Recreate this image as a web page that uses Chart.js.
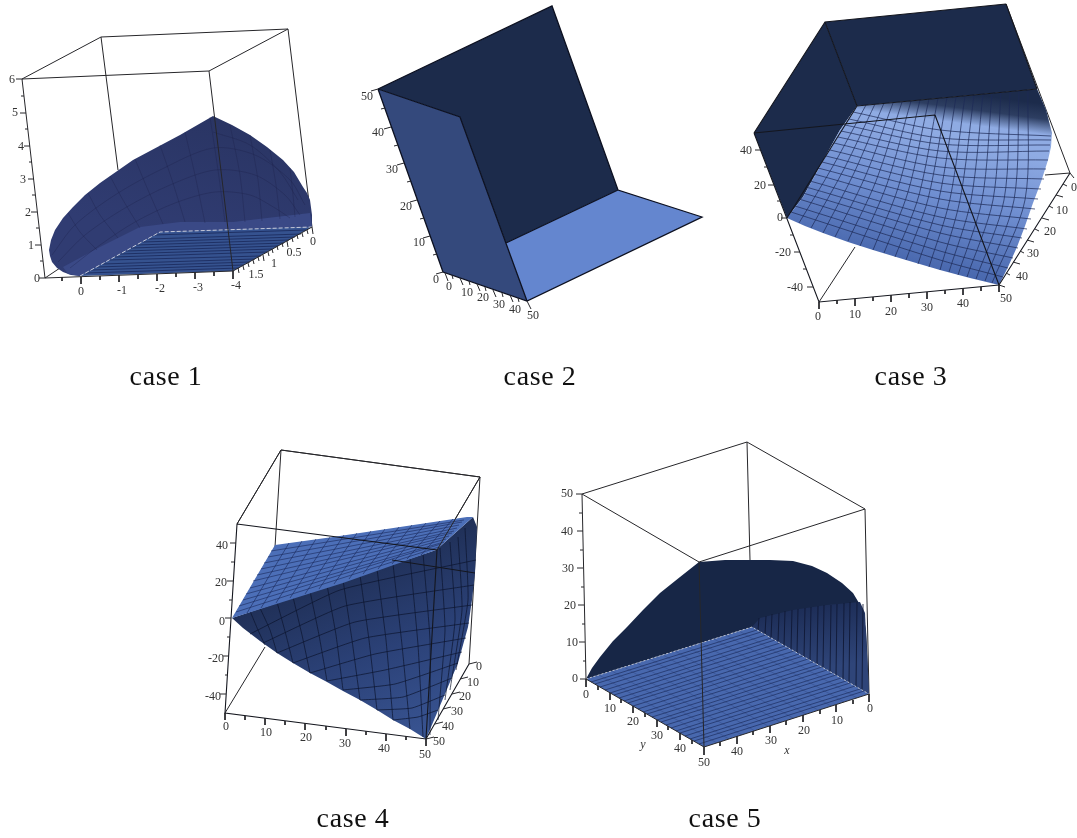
<!DOCTYPE html>
<html>
<head>
<meta charset="utf-8">
<title>cases</title>
<script src="https://cdn.jsdelivr.net/npm/chart.js@4"></script>
<style>
  html, body { margin: 0; background: #fff; }
  canvas { display: block; }
</style>
</head>
<body>
<canvas id="myChart" width="1077" height="838"></canvas>
<script>

// case 1
const case1BoxBack = [[22,79,101,37,288,29,209,71,22,79], [101,37,118,170], [288,29,312,227], [45,278,60,268]];
const case1Surface = [213,116,180,135,133,160,100,183,85,195,73,207,63,218,55,230,51,240,49,250,50,256,52,262,57,268,63,272,71,275,80,276,160,232,312,227,312,215,310,200,307,193,303,187,294,172,283,160,267,147,250,135,232,125];
const case1Band = [63,267,100,247,140,227,180,222,233,222,310,213,312,227,160,232,80,276,68,274];
const case1Floor = [80,276,233,271,312,227,160,232];
const case1Arcs = [[52,255,75,225,115,195,160,170,213,148,255,155,290,180,305,205], [58,262,85,235,125,208,170,185,215,170,255,175,285,195,300,215], [70,268,100,245,135,222,175,203,215,192,250,195,275,208,290,218], [213,132,250,145,280,172,298,200]];
const case1Ribs = [[210,117,218,170,225,222], [230,125,240,175,245,222], [250,135,258,180,262,221], [270,150,276,185,280,219], [290,168,293,195,295,217], [185,132,195,175,205,223], [160,145,172,180,185,222], [135,159,148,190,163,224], [110,176,123,200,140,228], [88,193,100,215,118,238], [68,213,80,232,97,250]];
const case1Hatch = [[86,273,239,268],[91,270,244,265],[97,267,250,262],[103,264,255,259],[109,260,261,256],[114,257,267,252],[120,254,272,249],[126,251,278,246],[131,248,284,243],[137,245,289,240],[143,242,295,237],[149,239,301,234],[154,235,306,230]];
const case1Seam = [[80,276,160,232,312,227]];
const case1BoxFront = [[209,71,233,271], [22,79,45,278], [45,278,233,271,312,227]];
const case1Ticks = [[81,277,81,284],[119,275,119,282],[157,274,157,281],[195,272,195,279],[233,271,233,279],[62,277,62,281],[100,276,100,280],[138,275,138,279],[176,273,176,277],[214,272,214,276],
  [312,227,313,234],[307,230,308,234],[302,233,303,237],[297,235,298,239],[292,238,293,242],[287,241,288,247],[282,243,283,247],[277,246,278,250],[272,249,273,253],[268,252,269,256],[263,255,264,261],[258,257,259,261],[253,260,254,264],[248,263,249,267],[243,266,244,270],[238,268,239,273],
  [22,79,16,79],[26,113,20,113],[30,146,24,146],[34,179,28,179],[37,212,31,212],[41,245,35,245],[45,278,39,278],[24,96,21,96],[28,129,25,129],[32,162,29,162],[35,195,32,195],[39,228,36,228],[43,261,40,261]];
const case1Labels = ['0','-1','-2','-3','-4','0','0.5','1','1.5','6','5','4','3','2','1','0'];
const case1LabelAt = [[81,292],[122,291],[160,289],[198,288],[236,286],[313,242],[294,253],[274,264],[256,275],[12,80],[15,113],[21,147],[23,180],[28,213],[31,246],[37,279]];

// case 2
const case2Back = [378,89,552,6,618,190,506,243,460,117];
const case2Side = [378,89,460,117,527,301,443,272];
const case2Floor = [506,243,618,190,702,217,527,301];
const case2Edges = [[378,89,552,6,618,190,702,217,527,301,443,272,378,89], [378,89,460,117,527,301], [506,243,618,190]];
const case2Ticks = [[378,89,371,91],[391,127,384,129],[404,163,397,165],[417,200,410,202],[430,236,423,238],[443,272,436,274],[385,108,381,109],[398,145,394,146],[411,181,407,182],[424,218,420,219],[437,254,433,255],
  [445,273,448,281],[460,278,463,285],[477,284,480,291],[493,290,496,297],[510,295,513,302],[527,301,531,309],[452,275,453,279],[469,281,470,285],[485,287,486,291],[502,293,503,297],[518,298,519,302]];
const case2Labels = ['50','40','30','20','10','0','0','10','20','30','40','50'];
const case2LabelAt = [[367,97],[378,133],[392,170],[406,207],[419,243],[436,280],[449,287],[467,293],[483,298],[499,305],[515,310],[533,316]];

// case 3
const case3BoxBack = [[1006,4,1070,173,1045,175], [819,302,855,247]];
const case3Back = [825,22,1006,4,1037,89,857,106];
const case3Side = [825,22,857,106,840,130,803,197,787,218,754,133];
const case3Surface = [857,106,1037,89,1046,110,1052,133,1051,147,1048,160,1041,182,1033,203,1025,226,1017,247,1008,267,999,285,970,278,940,270,906,260,873,250,848,242,823,233,805,226,787,218,803,197,840,130];
const case3Shade = [857,106,1037,89,1046,110,1052,133,1051,150,857,150];
const case3ArcRows = [[791,212,940,260,1003,277],[795,206,940,251,1008,268],[799,199,940,242,1013,258],[803,193,940,233,1018,248],[806,187,940,225,1022,238],[810,181,940,217,1027,229],[814,174,940,208,1031,219],[818,168,940,199,1035,209],[822,162,940,191,1038,199],[826,156,940,183,1041,189],[830,150,940,175,1044,179],[834,143,940,167,1046,169],[838,137,940,158,1048,160],[841,131,940,151,1049,151],[845,125,940,144,1050,145],[849,119,940,138,1051,140],[853,112,940,130,1051,136]];
const case3RibRows = [[866,105,833,166,799,223],[875,104,844,169,811,228],[884,103,854,173,823,233],[893,103,865,177,835,237],[902,102,876,181,848,241],[911,101,887,184,860,246],[920,100,898,188,873,250],[929,99,908,192,884,253],[938,98,919,195,895,257],[947,97,928,199,906,260],[956,97,939,199,918,264],[965,96,950,199,929,267],[974,95,960,200,940,270],[983,94,971,200,949,272],[992,93,982,200,958,275],[1001,92,993,200,967,277],[1010,92,1004,200,976,279],[1019,91,1014,200,985,281],[1028,90,1025,200,992,283]];
const case3BoxFront = [[754,133,825,22,1006,4], [754,133,935,115], [825,22,857,106,1037,89], [1006,4,1037,89], [935,115,999,285], [857,106,787,218], [754,133,819,302,999,285,1070,173]];
const case3Ticks = [[819,302,819,309],[855,299,855,306],[891,295,891,302],[927,292,927,299],[963,288,963,295],[999,285,999,292],[837,300,837,304],[873,297,873,301],[909,294,909,298],[945,290,945,294],[981,287,981,291],
  [1070,173,1074,178],[1056,195,1063,197],[1042,218,1049,220],[1027,240,1034,242],[1013,262,1020,264],[999,285,1005,287],[1063,184,1067,186],[1049,206,1053,208],[1035,229,1039,231],[1020,251,1024,253],[1006,273,1010,275],
  [761,150,755,150],[774,185,768,185],[787,218,781,218],[800,252,794,252],[813,287,807,287],[767,167,764,167],[780,201,777,201],[793,235,790,235],[806,269,803,269]];
const case3Labels = ['0','10','20','30','40','50','0','10','20','30','40','40','20','0','-20','-40'];
const case3LabelAt = [[818,317],[855,315],[891,312],[927,308],[963,304],[1006,299],[1074,188],[1062,211],[1050,232],[1033,254],[1022,277],[746,151],[760,186],[780,218],[783,253],[795,288]];

// case 4
const case4BoxBack = [[237,524,281,450,480,477,437,550], [281,450,275,547], [480,477,469,664], [225,713,265,647], [392,560,475,573]];
const case4Dark = [232,618,436,550,473,517,477,527,476,550,475,573,472,600,468,627,458,663,426,739,410,729,393,720,377,710,360,700,343,691,327,682,310,673,293,663,277,653,260,641,243,628];
const case4Light = [232,618,275,545,333,537,467,517,473,517,436,550,343,583];
const case4Ribs = [[250,611,258,630,265,645],[260,608,270,630,277,653],[277,602,286,635,293,663],[293,597,302,635,310,673],[310,591,319,635,327,681],[327,585,336,635,343,690],[343,580,352,640,360,700],[360,575,369,640,377,710],[377,569,386,640,393,720],[393,564,402,645,410,729],[410,558,418,645,423,737],[423,553,430,640,430,735],[440,548,445,630,438,720],[450,542,455,620,445,700],[458,537,462,610,450,690],[465,528,468,600,456,670]];
const case4Arcs = [[250,634,340,590,476,560],[263,643,345,606,474,585],[277,653,355,622,472,605],[293,663,365,638,469,623],[310,673,375,654,466,638],[327,681,385,670,462,652],[343,690,395,684,458,663],[360,700,403,697,452,678],[377,710,412,708,445,695],[393,720,418,717,438,710]];
const case4LightLong = [[236,612,439,547],[239,606,441,544],[243,600,444,542],[246,594,446,539],[250,588,449,536],[253,581,452,533],[257,575,454,531],[261,569,457,528],[264,563,459,525],[268,557,462,522],[271,551,464,520]];
const case4LightCross = [[247,613,289,543],[261,608,302,541],[276,603,316,539],[290,598,330,537],[305,594,344,535],[319,589,357,533],[334,584,371,531],[349,579,385,529],[363,574,399,527],[378,569,412,525],[392,564,426,523],[407,559,440,521],[421,555,453,519]];
const case4BoxFront = [[237,524,225,713,426,739,469,664], [237,524,437,550,426,739]];
const case4Ticks = [[225,713,225,720],[265,718,265,725],[305,723,305,730],[346,729,346,736],[386,734,386,741],[426,739,426,746],[245,716,245,720],[285,721,285,725],[326,726,326,730],[366,731,366,735],[406,736,406,740],
  [469,664,477,662],[460,679,468,677],[452,694,460,692],[443,709,451,707],[435,724,443,722],[426,739,434,737],
  [236,543,230,543],[233,581,227,581],[231,618,225,618],[229,656,223,656],[226,694,220,694],[234,562,231,562],[232,600,229,600],[230,637,227,637],[228,675,225,675]];
const case4Labels = ['40','20','0','-20','-40','0','10','20','30','40','50','0','10','20','30','40','50'];
const case4LabelAt = [[222,546],[221,583],[222,622],[216,659],[213,697],[226,727],[266,733],[306,738],[345,744],[384,749],[425,755],[479,667],[473,683],[465,697],[457,712],[448,727],[439,742]];

// case 5
const case5BoxBack = [[582,494,747,442,865,509,699,562,582,494], [747,442,750,560], [865,509,869,694]];
const case5Surface = [586,679,592,668,600,657,613,641,627,627,643,610,660,593,680,577,699,562,725,560,747,560,770,560,793,561,812,566,827,573,842,583,853,593,859,603,863,613,866,630,867,647,868,670,869,694,752,627];
const case5Wall = [752,627,760,618,793,610,827,605,860,602,865,613,869,694];
const case5Floor = [586,679,704,747,869,694,752,627];
const case5WallRibs = [[758,630,759,618],[765,634,766,616],[771,638,772,614],[778,642,779,613],[784,646,785,611],[791,650,792,610],[797,653,798,609],[804,657,805,608],[810,661,811,607],[817,665,818,606],[823,668,824,605],[830,672,831,605],[836,676,837,604],[843,680,844,603],[849,683,850,602],[856,687,857,602],[862,691,863,604]];
const case5FloorLong = [[591,682,757,630],[595,684,761,632],[600,687,766,635],[605,690,771,638],[610,693,775,640],[614,695,780,643],[619,698,785,646],[624,701,789,648],[628,703,794,651],[633,706,799,654],[638,709,803,656],[643,712,808,659],[647,714,813,662],[652,717,818,665],[657,720,822,667],[661,722,827,670],[666,725,832,673],[671,728,836,675],[676,731,841,678],[680,733,846,681],[685,736,850,683],[690,739,855,686],[694,741,860,689],[699,744,864,691]];
const case5FloorCross = [[599,675,717,743],[612,671,729,739],[624,667,742,735],[637,663,755,731],[650,659,768,726],[663,655,780,722],[675,651,793,718],[688,647,806,714],[701,643,818,710],[714,639,831,706],[726,635,844,702],[739,631,857,698]];
const case5Seam = [[586,679,752,627,869,694]];
const case5BoxFront = [[582,494,586,679,704,747,869,694], [699,562,704,747]];
const case5Ticks = [[582,494,576,494],[583,531,577,531],[583,568,577,568],[584,605,578,605],[585,642,579,642],[586,679,580,679],[582,513,579,513],[583,550,580,550],[584,587,581,587],[585,624,582,624],[586,661,583,661],
  [586,679,586,687],[610,693,610,700],[633,706,633,713],[657,720,657,727],[680,733,680,740],[704,747,704,755],[598,686,598,690],[621,699,621,703],[645,713,645,717],[668,726,668,730],[692,740,692,744],
  [737,736,737,744],[770,726,770,733],[803,715,803,722],[836,705,836,712],[869,694,869,702],[720,742,720,746],[753,731,753,735],[786,721,786,725],[820,710,820,714],[853,700,853,704]];
const case5Labels = ['50','40','30','20','10','0','0','10','20','30','40','50','0','10','20','30','40'];
const case5LabelAt = [[567,494],[567,532],[568,569],[570,606],[572,643],[575,679],[586,695],[610,709],[633,722],[657,736],[680,749],[704,763],[870,709],[837,721],[804,731],[771,741],[737,752]];
const case5AxisNames = ['y','x'];
const case5AxisNameAt = [[643,745],[787,751]];

const caseNames = ['case 1','case 2','case 3','case 4','case 5'];
const caseNameAt = [[166,378],[540,378],[911,378],[353,820],[725,820]];

// helpers
function toPoints(row) {
    const pts = [];
    for (let i = 0; i < row.length; i += 2) pts.push({x: row[i], y: row[i + 1]});
    return pts;
}

function shape(row, color) {
    return {data: toPoints(row), fill: 'shape', backgroundColor: color, borderWidth: 0};
}

function lines(rows, color, width, extra) {
    const pts = [];
    rows.forEach(row => { pts.push(...toPoints(row), {x: null, y: null}); });
    return Object.assign({data: pts, fill: false, borderColor: color, borderWidth: width}, extra);
}

function linear(x0, y0, x1, y1, stops) {
    return function (ctx) {
        const s = ctx.chart.scales;
        const a = s.x.getPixelForValue(x0), b = s.y.getPixelForValue(y0);
        const c = s.x.getPixelForValue(x1), d = s.y.getPixelForValue(y1);
        // scales have no size yet on the first pass
        if (![a, b, c, d].every(isFinite)) return stops[0][1];
        const g = ctx.chart.ctx.createLinearGradient(a, b, c, d);
        stops.forEach(st => g.addColorStop(st[0], st[1]));
        return g;
    };
}

const boxColor = '#26262a';
const navy = '#1c2b4b';

// painted back to front
const layers = [
    lines(case1BoxBack, boxColor, 1),
    shape(case1Surface, linear(215, 120, 190, 240, [[0, '#2a3564'], [1, '#303c72']])),
    shape(case1Band, '#3a4986'),
    lines(case1Arcs, 'rgba(25,30,70,.3)', 1, {tension: .3}),
    lines(case1Ribs, 'rgba(25,30,70,.3)', 1, {tension: .3}),
    shape(case1Floor, '#35528f'),
    lines(case1Hatch, 'rgba(25,40,90,.8)', 1),
    lines(case1Seam, '#c4c8d8', 1, {borderDash: [4, 2]}),
    lines(case1BoxFront, boxColor, 1),
    lines(case1Ticks, boxColor, 1),

    shape(case2Back, navy),
    shape(case2Side, '#34497c'),
    shape(case2Floor, '#6486cf'),
    lines(case2Edges, '#0c1020', 1.3),
    lines(case2Ticks, boxColor, 1),

    lines(case3BoxBack, boxColor, 1),
    shape(case3Back, navy),
    shape(case3Side, navy),
    shape(case3Surface, linear(900, 125, 870, 258, [[0, '#8fabe3'], [.45, '#6f8ed0'], [1, '#4766ac']])),
    shape(case3Shade, linear(1000, 98, 996, 128, [[0, 'rgba(28,43,75,1)'], [.5, 'rgba(28,43,75,.85)'], [1, 'rgba(28,43,75,0)']])),
    lines(case3ArcRows, 'rgba(28,42,85,.7)', 1, {tension: .3}),
    lines(case3RibRows, 'rgba(28,42,85,.7)', 1, {tension: .3}),
    lines(case3BoxFront, '#14161e', 1.1),
    lines(case3Ticks, boxColor, 1),

    lines(case4BoxBack, boxColor, 1),
    shape(case4Dark, linear(330, 560, 400, 735, [[0, '#1e2d52'], [.55, '#2b4177'], [1, '#37528f']])),
    lines(case4Ribs, 'rgba(12,20,45,.7)', 1, {tension: .15}),
    lines(case4Arcs, 'rgba(12,20,45,.7)', 1, {tension: .15}),
    shape(case4Light, '#4c6fb8'),
    lines(case4LightLong, 'rgba(25,40,90,.6)', 1),
    lines(case4LightCross, 'rgba(25,40,90,.6)', 1),
    lines(case4BoxBack.slice(0, 1), boxColor, 1),
    lines(case4BoxBack.slice(4), '#14161e', 1),
    lines(case4BoxFront, '#14161e', 1.1),
    lines(case4Ticks, boxColor, 1),

    lines(case5BoxBack, boxColor, 1),
    shape(case5Surface, '#172646'),
    shape(case5Wall, linear(800, 605, 810, 670, [[0, '#1c2c55'], [1, '#2f4579']])),
    lines(case5WallRibs, 'rgba(14,22,50,.85)', 1),
    shape(case5Floor, '#4868ae'),
    lines(case5FloorLong, 'rgba(28,45,95,.7)', 1),
    lines(case5FloorCross, 'rgba(28,45,95,.25)', 1),
    lines(case5Seam, '#b8bcc8', 1, {borderDash: [2, 2]}),
    lines(case5BoxFront, boxColor, 1),
    lines(case5Ticks, boxColor, 1)
];

// Chart.js paints the first dataset last
const datasets = layers.reverse();

const textPlugin = {
    id: 'caseText',
    afterDraw(chart) {
        const c = chart.ctx;
        const s = chart.scales;
        const put = (texts, at, font, color) => {
            c.font = font;
            c.fillStyle = color;
            texts.forEach((t, i) => c.fillText(t, s.x.getPixelForValue(at[i][0]), s.y.getPixelForValue(at[i][1])));
        };
        c.save();
        c.textAlign = 'center';
        c.textBaseline = 'middle';
        const tickFont = '12px "Liberation Serif"';
        put(case1Labels, case1LabelAt, tickFont, '#333');
        put(case2Labels, case2LabelAt, tickFont, '#333');
        put(case3Labels, case3LabelAt, tickFont, '#333');
        put(case4Labels, case4LabelAt, tickFont, '#333');
        put(case5Labels, case5LabelAt, tickFont, '#333');
        put(case5AxisNames, case5AxisNameAt, 'italic 12px "Liberation Serif"', '#333');
        c.letterSpacing = '0.6px';
        put(caseNames, caseNameAt, '28px "Liberation Serif"', '#111');
        c.restore();
    }
};

new Chart(document.getElementById('myChart').getContext('2d'), {
    type: 'scatter',
    data: {datasets: datasets},
    options: {
        responsive: false,
        animation: false,
        events: [],
        layout: {padding: 0},
        clip: false,
        showLine: true,
        elements: {point: {radius: 0, hoverRadius: 0}, line: {tension: 0}},
        plugins: {legend: {display: false}, tooltip: {enabled: false}},
        scales: {
            x: {type: 'linear', display: false, min: 0, max: 1077},
            y: {type: 'linear', display: false, min: 0, max: 838, reverse: true}
        }
    },
    plugins: [textPlugin]
});
</script>
</body>
</html>
